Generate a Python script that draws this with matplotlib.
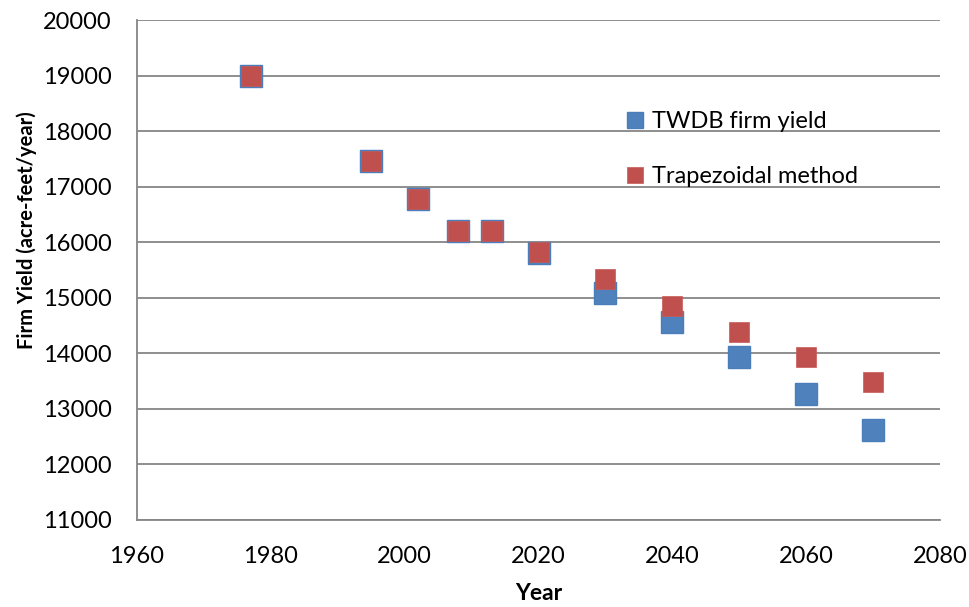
import matplotlib.pyplot as plt

# Data
years = [1977, 1995, 2002, 2008, 2013, 2020, 2030, 2040, 2050, 2060, 2070]
twdb_yield = [19000, 17460, 16780, 16210, 16210, 15800, 15090, 14560, 13930, 13275, 12620]
trapezoidal_yield = [19000, 17460, 16780, 16210, 16210, 15830, 15345, 14850, 14385, 13930, 13480]

x_ticks = list(range(1960, 2081, 20))
y_ticks = list(range(11000, 20001, 1000))

plt.rcParams['font.family'] = ['Lato', 'DejaVu Sans']

fig = plt.figure(figsize=(9.69, 6.07), dpi=100)
ax = fig.add_axes([137 / 969, 1 - 520 / 607, (940 - 137) / 969, 500 / 607])

ax.plot(years, twdb_yield, 's', color='#4f81bd', markeredgecolor='#4a7ebb',
        markeredgewidth=1.0, markersize=15.5, label='TWDB firm yield', zorder=3)
ax.plot(years, trapezoidal_yield, 's', color='#c0504d', markeredgecolor='#c85a57',
        markeredgewidth=0.5, markersize=14.2, label='Trapezoidal method', zorder=4)

ax.set_xlim(1960, 2080)
ax.set_ylim(11000, 20000)
ax.set_xticks(x_ticks)
ax.set_yticks(y_ticks)
ax.tick_params(labelsize=17, labelcolor='black', length=0)
ax.tick_params(axis='x', pad=19)
ax.tick_params(axis='y', pad=18)
ax.grid(axis='y', color='#868686', linewidth=1.3)
ax.set_axisbelow(True)

for side in ['top', 'right']:
    ax.spines[side].set_visible(False)
for side in ['left', 'bottom']:
    ax.spines[side].set_color('#868686')
    ax.spines[side].set_linewidth(1.3)

ax.set_xlabel('Year', fontsize=16.5, fontweight='bold')
ax.xaxis.set_label_coords(0.5, -0.126)
ax.set_ylabel('Firm Yield (acre-feet/year)', fontsize=14.5, fontweight='bold')
ax.yaxis.set_label_coords(-0.1245, 0.58)

leg = ax.legend(loc='upper left', bbox_to_anchor=(0.594, 0.842), frameon=False,
                fontsize=17, handletextpad=0.3, labelspacing=1.45,
                markerscale=12.2 / 15.5, handlelength=0.8, borderpad=0)

fig.savefig('out.png', dpi=100)
